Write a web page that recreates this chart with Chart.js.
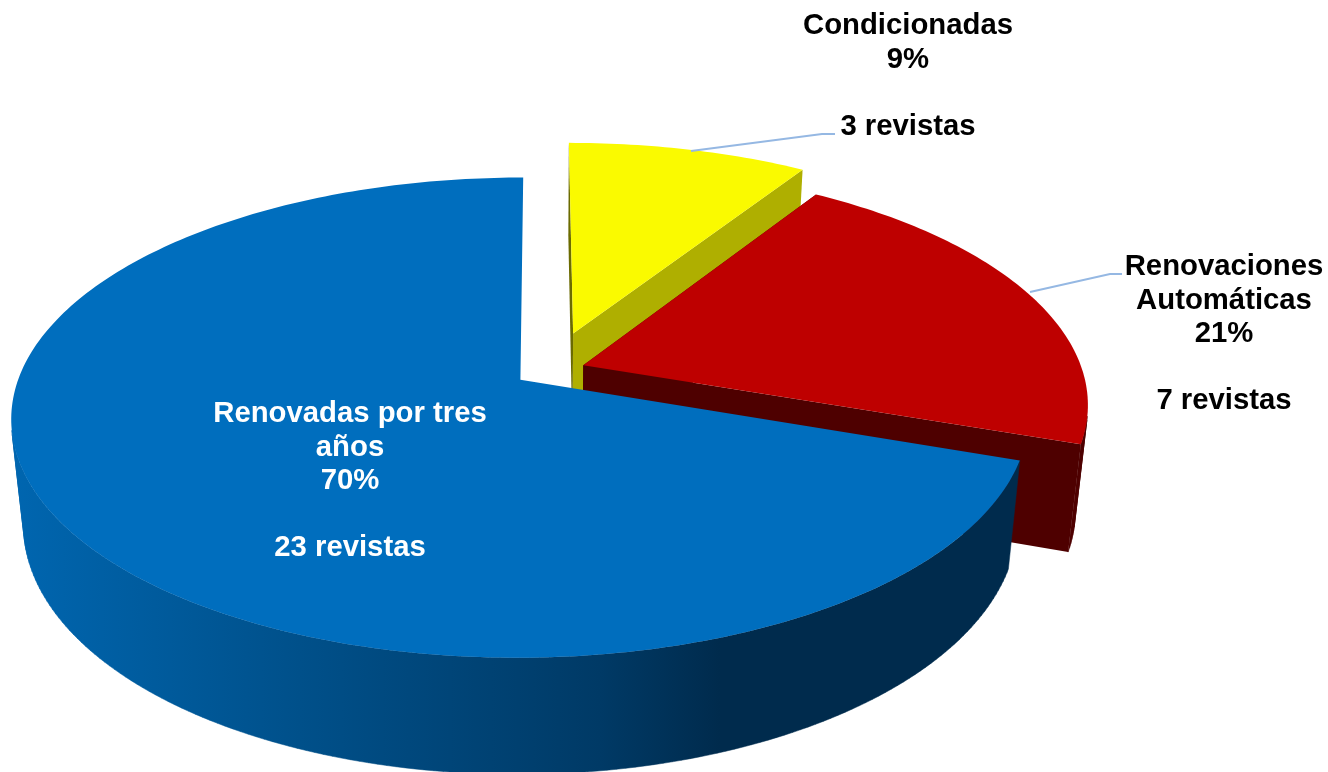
<!DOCTYPE html>
<html>
<head>
<meta charset="utf-8">
<title>Revistas</title>
<script src="https://cdn.jsdelivr.net/npm/chart.js@4"></script>
<style>
  html, body { margin: 0; padding: 0; background: #fff; }
  canvas { display: block; }
</style>
</head>
<body>
<canvas id="pieChart" width="1328" height="772"></canvas>
<script>
// Data, in drawing order (clockwise from 12 o'clock, back slices first)
const categories = ['Condicionadas', 'Renovaciones Automáticas', 'Renovadas por tres años'];
const revistas = [3, 7, 23];
const percentLabels = ['9%', '21%', '70%'];
const topColors = ['#FAFA00', '#BE0000', '#006EBE'];
const sideColors = ['#AFAF00', '#4E0000', '#00508A'];
// how far each slice is pulled out of the pie, as a fraction of the radius
const explodeX = [0.066, 0.085, -0.041];
const explodeY = [-0.175, -0.034, 0.029];

// Perspective view of the pie (a flat disc seen from above)
const view = { cx: 541, cy: 373, r: 500, k: 232, persp: 0.157, depth: 107, shrink: 0.023 };

function project(u, v, z) {
  const w = 1 - view.persp * v + view.shrink * z;
  return { x: view.cx + view.r * u / w, y: view.cy + (view.k * v + view.depth * z) / w };
}

function rimPoints(arc, i, z) {
  const pts = [];
  const steps = Math.ceil((arc.endAngle - arc.startAngle) * 60);
  for (let s = 0; s <= steps; s++) {
    const t = arc.startAngle + (arc.endAngle - arc.startAngle) * s / steps;
    pts.push(project(explodeX[i] + Math.cos(t), explodeY[i] + Math.sin(t), z));
  }
  return { apex: project(explodeX[i], explodeY[i], z), pts: pts };
}

function tracePoly(ctx, pts) {
  pts.forEach((p, n) => n ? ctx.lineTo(p.x, p.y) : ctx.moveTo(p.x, p.y));
  ctx.closePath();
}

function fillPoly(ctx, pts, color) {
  ctx.beginPath();
  tracePoly(ctx, pts);
  ctx.fillStyle = color;
  ctx.fill();
}

function signedArea(pts) {
  let sum = 0;
  pts.forEach((p, n) => {
    const q = pts[(n + 1) % pts.length];
    sum += p.x * q.y - q.x * p.y;
  });
  return sum / 2;
}

function sideFill(ctx, i) {
  if (i !== 2) return sideColors[i];
  // the big slice has a shaded rim, dark towards the right
  const g = ctx.createLinearGradient(10, 0, 1010, 0);
  g.addColorStop(0, '#0066B0');
  g.addColorStop(0.29, '#00508A');
  g.addColorStop(0.59, '#003A66');
  g.addColorStop(0.71, '#002B4D');
  g.addColorStop(1, '#002B4D');
  return g;
}

const pie3d = {
  id: 'pie3d',
  beforeDatasetDraw(chart) {
    const ctx = chart.ctx;
    chart.getDatasetMeta(0).data.forEach((arc, i) => {
      const top = rimPoints(arc, i, 0);
      const bottom = rimPoints(arc, i, 1);
      const last = top.pts.length - 1;
      // radial walls, the big slice never shows them
      if (i !== 2) {
        fillPoly(ctx, [top.apex, top.pts[last], bottom.pts[last], bottom.apex], sideColors[i]);
        fillPoly(ctx, [top.apex, top.pts[0], bottom.pts[0], bottom.apex], i === 0 ? '#6B6B00' : sideColors[i]);
      }
      // rim: only the quads facing the viewer, all in one path so there are no seams
      ctx.beginPath();
      for (let s = 0; s < last; s++) {
        const quad = [top.pts[s], top.pts[s + 1], bottom.pts[s + 1], bottom.pts[s]];
        if (signedArea(quad) < 0) tracePoly(ctx, quad);
      }
      ctx.fillStyle = sideFill(ctx, i);
      ctx.strokeStyle = ctx.fillStyle;
      ctx.lineWidth = 0.5;
      ctx.fill();
      ctx.stroke();
      // top face
      fillPoly(ctx, [top.apex].concat(top.pts), arc.options.backgroundColor);
    });
    return false;
  },
  afterDraw(chart) {
    const ctx = chart.ctx;
    // leader lines
    ctx.strokeStyle = '#95B8E3';
    ctx.lineWidth = 2;
    [[[691, 151], [822, 134], [835, 134]], [[1030, 292], [1110, 274], [1122, 274]]].forEach(line => {
      ctx.beginPath();
      line.forEach((p, n) => n ? ctx.lineTo(p[0], p[1]) : ctx.moveTo(p[0], p[1]));
      ctx.stroke();
    });
    // data labels
    ctx.font = 'bold 29.3px "Liberation Sans", Arial, sans-serif';
    ctx.textAlign = 'center';
    ctx.textBaseline = 'middle';
    const spots = [
      { x: 908, y: 26, color: '#000', lines: ['Condicionadas'] },
      { x: 1224, y: 267, color: '#000', lines: ['Renovaciones', 'Automáticas'] },
      { x: 350, y: 414, color: '#fff', lines: ['Renovadas por tres', 'años'] }
    ];
    spots.forEach((s, i) => {
      const lines = s.lines.concat([percentLabels[i], '', revistas[i] + ' revistas']);
      ctx.fillStyle = s.color;
      lines.forEach((txt, n) => {
        if (txt) ctx.fillText(txt, s.x, s.y + n * 33.6);
      });
    });
  }
};

new Chart(document.getElementById('pieChart').getContext('2d'), {
  type: 'pie',
  data: {
    labels: categories,
    datasets: [{ data: revistas, backgroundColor: topColors, borderWidth: 0 }]
  },
  options: {
    responsive: false,
    animation: false,
    plugins: { legend: { display: false }, tooltip: { enabled: false } }
  },
  plugins: [pie3d]
});
</script>
</body>
</html>
